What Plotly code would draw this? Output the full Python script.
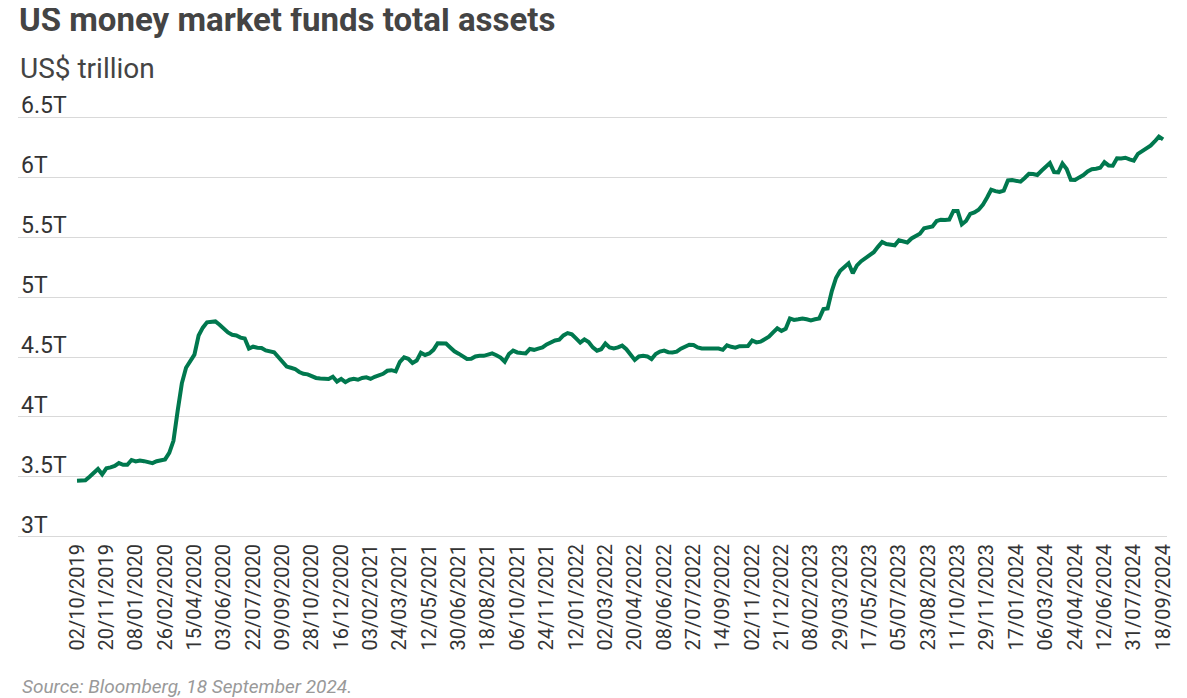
import pandas as pd
import plotly.graph_objects as go

start_date = "2019-10-02"
n_weeks = 260
dates = pd.date_range(start_date, periods=n_weeks, freq="7D")

# Weekly total assets, US$ trillion
assets = [
    3.467, 3.467, 3.470, 3.500, 3.530, 3.565, 3.520, 3.570, 3.578, 3.590,
    3.614, 3.600, 3.600, 3.640, 3.628, 3.636, 3.630, 3.620, 3.614, 3.630,
    3.640, 3.645, 3.700, 3.800, 4.050, 4.280, 4.410, 4.470, 4.520, 4.680,
    4.745, 4.790, 4.797, 4.797, 4.770, 4.735, 4.705, 4.685, 4.680, 4.662,
    4.655, 4.570, 4.586, 4.578, 4.575, 4.555, 4.545, 4.540, 4.500, 4.460,
    4.420, 4.410, 4.400, 4.375, 4.360, 4.355, 4.340, 4.325, 4.320, 4.318,
    4.317, 4.335, 4.295, 4.317, 4.290, 4.310, 4.317, 4.310, 4.325, 4.330,
    4.317, 4.335, 4.345, 4.360, 4.385, 4.390, 4.380, 4.460, 4.497, 4.485,
    4.450, 4.470, 4.536, 4.517, 4.530, 4.560, 4.614, 4.614, 4.612, 4.580,
    4.548, 4.528, 4.505, 4.484, 4.485, 4.505, 4.510, 4.510, 4.520, 4.530,
    4.515, 4.495, 4.460, 4.525, 4.553, 4.538, 4.533, 4.530, 4.567, 4.560,
    4.570, 4.580, 4.605, 4.625, 4.638, 4.645, 4.680, 4.700, 4.690, 4.655,
    4.620, 4.647, 4.625, 4.580, 4.553, 4.565, 4.612, 4.580, 4.572, 4.580,
    4.595, 4.565, 4.515, 4.475, 4.505, 4.510, 4.505, 4.483, 4.525, 4.545,
    4.553, 4.540, 4.537, 4.545, 4.570, 4.590, 4.603, 4.600, 4.580, 4.572,
    4.572, 4.572, 4.572, 4.570, 4.560, 4.598, 4.585, 4.578, 4.590, 4.590,
    4.592, 4.638, 4.622, 4.628, 4.645, 4.670, 4.705, 4.740, 4.718, 4.735,
    4.822, 4.810, 4.815, 4.822, 4.815, 4.806, 4.815, 4.822, 4.900, 4.905,
    5.050, 5.160, 5.220, 5.255, 5.283, 5.200, 5.265, 5.300, 5.327, 5.345,
    5.375, 5.420, 5.460, 5.443, 5.435, 5.433, 5.475, 5.465, 5.456, 5.490,
    5.510, 5.530, 5.575, 5.583, 5.590, 5.636, 5.647, 5.645, 5.648, 5.720,
    5.720, 5.608, 5.636, 5.695, 5.708, 5.730, 5.770, 5.830, 5.897, 5.885,
    5.878, 5.890, 5.975, 5.978, 5.970, 5.964, 5.995, 6.030, 6.028, 6.020,
    6.055, 6.085, 6.120, 6.045, 6.042, 6.115, 6.070, 5.980, 5.978, 6.000,
    6.020, 6.050, 6.068, 6.072, 6.080, 6.128, 6.100, 6.098, 6.160, 6.158,
    6.164, 6.150, 6.140, 6.197, 6.220, 6.245, 6.265, 6.300, 6.340, 6.317,
]

y_tick_vals = [3, 3.5, 4, 4.5, 5, 5.5, 6, 6.5]
y_tick_text = ["3T", "3.5T", "4T", "4.5T", "5T", "5.5T", "6T", "6.5T"]

x_tick_step = 7  # every 7th week
x_tick_vals = list(dates[::x_tick_step])
x_tick_text = [d.strftime("%d/%m/%Y") for d in x_tick_vals]

title_text = "US money market funds total assets"
subtitle_text = "US$ trillion"
source_text = "Source: Bloomberg, 18 September 2024."

FONT = "Roboto, 'Open Sans', sans-serif"

# page body has an 8px margin, so the figure is sized/placed accordingly
PLOT_TOP = 76
fig = go.Figure()
fig.add_trace(go.Scatter(
    x=dates, y=assets, mode="lines",
    line=dict(color="#00784e", width=4),
    hoverinfo="skip", showlegend=False,
))

fig.update_layout(
    width=1179, height=690,
    margin=dict(l=10, r=20, t=PLOT_TOP, b=159),
    paper_bgcolor="white", plot_bgcolor="white",
    font=dict(family=FONT, color="#333333"),
    xaxis=dict(
        type="date",
        range=[dates[0] - pd.Timedelta(days=98.5), dates[-1] + pd.Timedelta(days=6.5)],
        tickvals=x_tick_vals, ticktext=x_tick_text,
        tickangle=-90, tickfont=dict(size=20, color="#333333", family=FONT),
        showgrid=False, showline=False, zeroline=False, ticks="",
        ticklabelstandoff=0,
    ),
    yaxis=dict(
        range=[2.98, 6.78],
        tickvals=y_tick_vals, ticktext=y_tick_text,
        ticklabelposition="inside top",
        tickfont=dict(size=23, color="#333333", family=FONT),
        showgrid=True, gridcolor="#d9d9d9", gridwidth=1,
        zeroline=False, showline=False, ticks="",
        ticklabelstandoff=0, ticklabelshift=4,
    ),
    annotations=[
        dict(text=f"<b>{title_text}</b>", xref="paper", yref="paper",
             x=0, y=1, xshift=0, yshift=PLOT_TOP - 11, xanchor="left", yanchor="middle",
             showarrow=False, borderpad=0,
             font=dict(size=33, color="#444444", family=FONT)),
        dict(text=subtitle_text, xref="paper", yref="paper",
             x=0, y=1, xshift=0, yshift=PLOT_TOP - 60, xanchor="left", yanchor="middle",
             showarrow=False, font=dict(size=28, color="#444444", family=FONT)),
        dict(text=f"<i>{source_text}</i>", xref="paper", yref="paper",
             x=0, y=0, xshift=2, yshift=-147, xanchor="left", yanchor="middle",
             showarrow=False, font=dict(size=19, color="#999999", family=FONT)),
    ],
)

fig.write_html("out.html")
